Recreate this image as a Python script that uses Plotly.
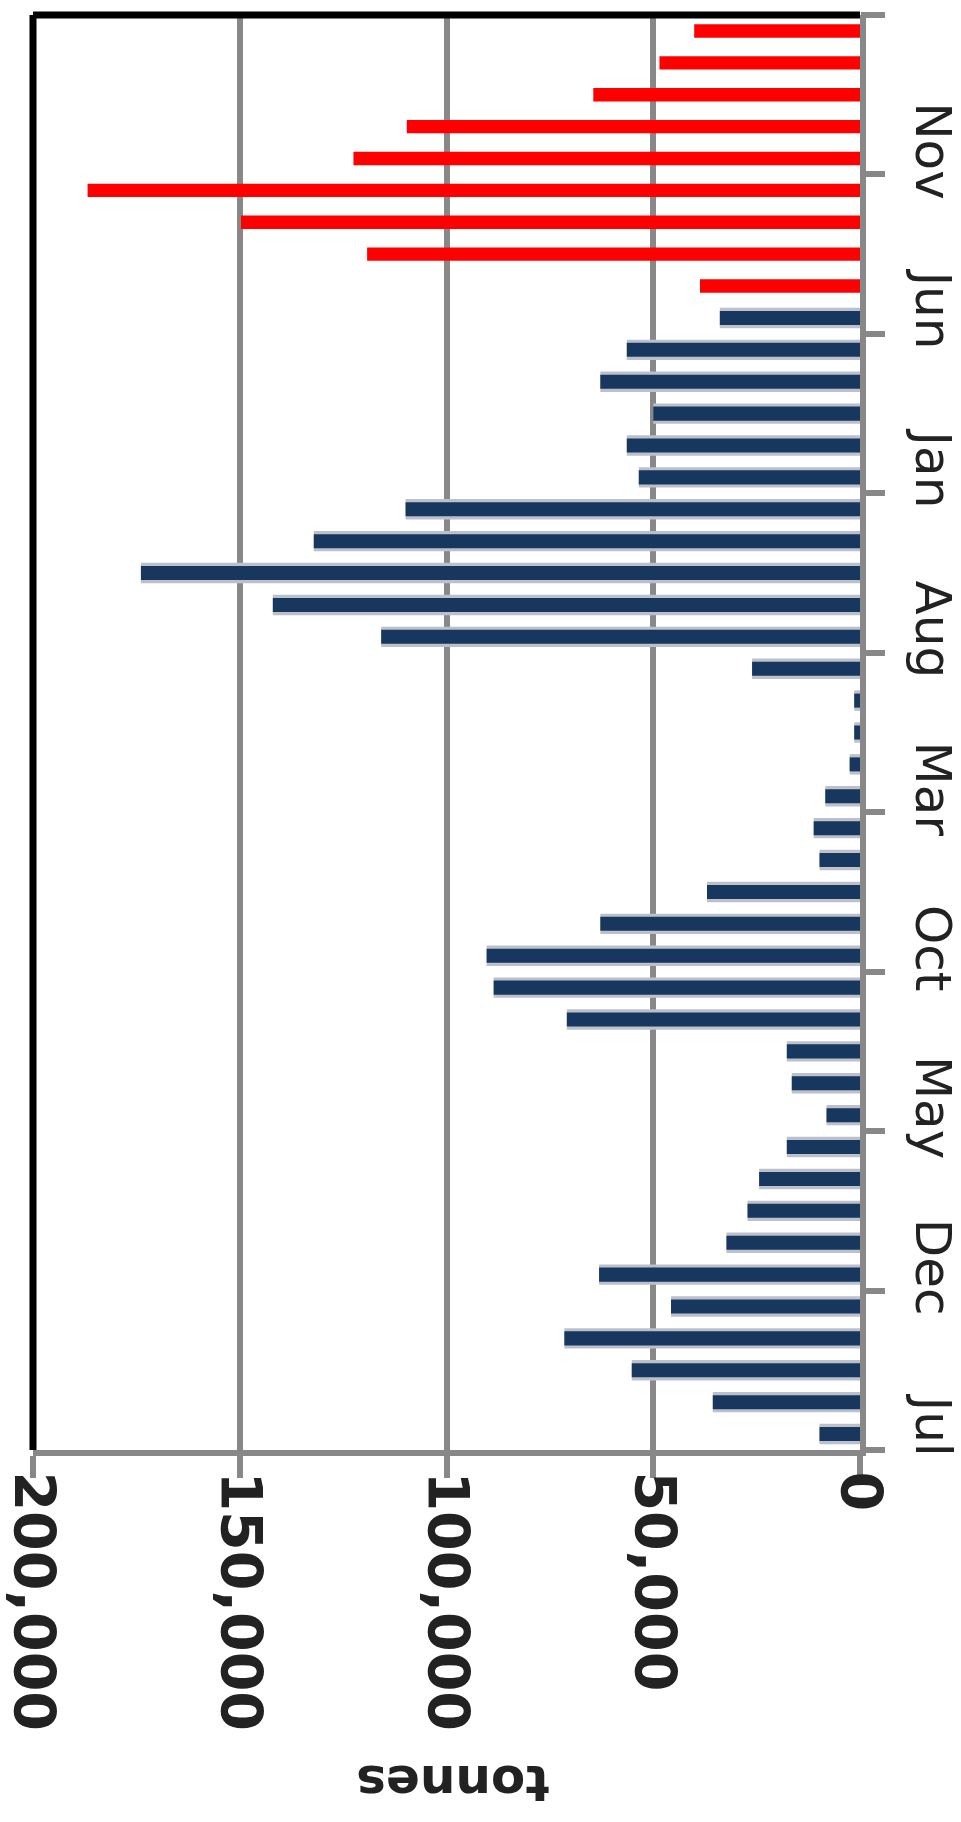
import plotly.graph_objects as go

# Monthly tonnage, bottom (oldest) to top (newest)
month_labels = ["Jul", "Dec", "May", "Oct", "Mar", "Aug", "Jan", "Jun", "Nov"]
navy_values = [9800, 35600, 55200, 71500, 45700, 63100, 32300, 27200, 24400, 17700,
               8100, 16500, 17700, 70900, 88600, 90300, 62800, 37000, 9800, 11200,
               8400, 2500, 1400, 1400, 26100, 115800, 142000, 173900, 132100, 109900,
               53500, 56400, 50000, 62800, 56400, 33900]
red_values = [38700, 119200, 149700, 186800, 122500, 109600, 64500, 48500, 40100]
value_ticks = [200000, 150000, 100000, 50000, 0]
value_ticktext = ["200,000", "150,000", "100,000", "50,000", "0"]
axis_title = "tonnes"

n_navy = len(navy_values)
n_total = n_navy + len(red_values)
navy_pos = list(range(n_navy))
red_pos = list(range(n_navy, n_total))

GRAY = "#888888"
FONT = "DejaVu Sans"
TXT = "#222222"

fig = go.Figure()
fig.add_trace(go.Bar(x=navy_values, y=navy_pos, orientation="h", width=0.64,
                     marker=dict(color="#BCC0CB", line=dict(width=0)), showlegend=False,
                     hoverinfo="skip"))
fig.add_trace(go.Bar(x=navy_values, y=navy_pos, orientation="h", width=0.44,
                     marker=dict(color="#17375E", line=dict(width=0)), showlegend=False))
fig.add_trace(go.Bar(x=red_values, y=red_pos, orientation="h", width=0.42,
                     marker=dict(color="#FF0000", line=dict(width=0)), showlegend=False))

fig.update_layout(
    width=961, height=1822,
    margin=dict(l=33, r=101, t=15, b=372),
    paper_bgcolor="white", plot_bgcolor="white",
    barmode="overlay",
    font=dict(family=FONT, size=56, color=TXT),
    xaxis=dict(
        range=[200000, 0], autorange=False, automargin=False,
        tickmode="array", tickvals=value_ticks, ticktext=value_ticktext,
        tickangle=90, tickfont=dict(family=FONT, size=57, color=TXT, weight="bold"),
        showgrid=True, gridcolor=GRAY, gridwidth=6,
        showline=True, linecolor=GRAY, linewidth=6,
        ticks="outside", ticklen=22, tickwidth=6, tickcolor=GRAY,
        zeroline=False, fixedrange=True,
        ticklabelstandoff=-18,
    ),
    yaxis=dict(
        range=[-0.5, n_total - 0.5], autorange=False, automargin=False,
        side="right",
        tickmode="array", tickvals=list(range(0, n_total, 5)), ticktext=month_labels,
        tickangle=90, tickfont=dict(family=FONT, size=50, color=TXT),
        ticks="", showgrid=False, zeroline=False,
        showline=True, linecolor=GRAY, linewidth=6,
        ticklabelstandoff=30, fixedrange=True,
    ),
    yaxis2=dict(
        range=[-0.5, n_total - 0.5], autorange=False, automargin=False,
        overlaying="y", side="right",
        tickmode="array", tickvals=[v - 0.5 for v in range(0, n_total + 1, 5)],
        showticklabels=False, ticks="outside", ticklen=24, tickwidth=6, tickcolor=GRAY,
        showgrid=False, zeroline=False, showline=False, fixedrange=True,
    ),
    shapes=[
        dict(type="line", xref="paper", yref="paper", x0=0, x1=1, y0=1, y1=1,
             line=dict(color="black", width=7), layer="above"),
        dict(type="line", xref="paper", yref="paper", x0=0, x1=0, y0=0, y1=1,
             line=dict(color="black", width=7), layer="above"),
    ],
    annotations=[
        dict(text=axis_title, xref="paper", yref="paper", x=0.508, y=-0.232,
             xanchor="center", yanchor="middle", showarrow=False, textangle=180,
             font=dict(family=FONT, size=50, color=TXT, weight="bold")),
    ],
)
fig.add_trace(go.Scatter(x=[None], y=[None], yaxis="y2", showlegend=False,
                         hoverinfo="skip", mode="markers"))

fig.write_html("out.html", config={"displayModeBar": False},
               post_script="document.body.style.margin='0';")
